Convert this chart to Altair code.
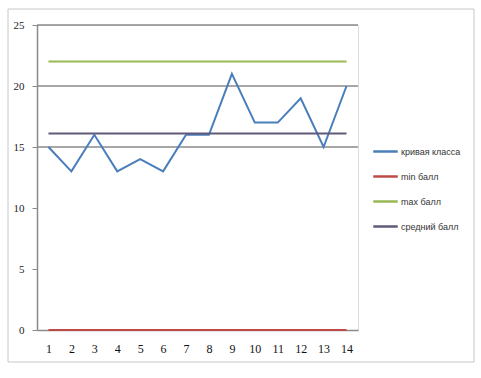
import altair as alt
import pandas as pd

lessons = list(range(1, 15))
class_curve = [15, 13, 16, 13, 14, 13, 16, 16, 21, 17, 17, 19, 15, 20]
min_score = [0] * 14
max_score = [22] * 14
avg_score = [16.1] * 14
series_names = ["кривая класса", "min балл", "max балл", "средний балл"]
series_colors = ["#4a7ebb", "#be4b48", "#98b954", "#5e5a78"]
grid_values = [15, 20, 25]

rows = []
for name, vals in zip(series_names, [class_curve, min_score, max_score, avg_score]):
    for l, v in zip(lessons, vals):
        rows.append({"lesson": l, "value": v, "series": name})
df = pd.DataFrame(rows)

W, H = 321, 305

frame = alt.Chart(pd.DataFrame({"a": [0]})).mark_rect(
    fillOpacity=0, stroke="#c8c8c8", strokeWidth=1
).encode(x=alt.value(-29), x2=alt.value(437), y=alt.value(-16), y2=alt.value(337))

grid = alt.Chart(pd.DataFrame({"g": grid_values})).mark_rule(
    color="#8a8a8a", strokeWidth=1.3
).encode(
    y=alt.Y("g:Q", scale=alt.Scale(domain=[0, 25])),
    x=alt.value(0), x2=alt.value(W),
)

lines = alt.Chart(df).mark_line(strokeWidth=2).encode(
    x=alt.X("lesson:O", scale=alt.Scale(type="point", padding=0.5),
            axis=alt.Axis(title=None, labelAngle=0, labelFont="Liberation Serif",
                          labelFontSize=12, labelColor="#111", domainColor="#8a8a8a",
                          domainWidth=1.5, ticks=False, labelPadding=13, zindex=0)),
    y=alt.Y("value:Q", scale=alt.Scale(domain=[0, 25], nice=False),
            axis=alt.Axis(title=None, values=[0, 5, 10, 15, 20, 25], grid=False,
                          labelFont="Liberation Serif", labelFontSize=11,
                          labelColor="#222", domainColor="#8a8a8a", domainWidth=1.5,
                          tickColor="#8a8a8a", tickSize=5, labelPadding=8, zindex=1)),
    color=alt.Color("series:N",
                    scale=alt.Scale(domain=series_names, range=series_colors),
                    sort=series_names,
                    legend=alt.Legend(title=None, orient="none", legendX=335, legendY=113,
                                      symbolType="stroke", symbolSize=600,
                                      symbolStrokeWidth=2.5, labelFontSize=9,
                                      labelFont="Liberation Sans", labelColor="#333",
                                      rowPadding=6, labelOffset=2)),
    order="lesson:O",
)

chart = alt.layer(frame, grid, lines).properties(
    width=W, height=H,
    autosize=alt.AutoSizeParams(type="none"),
    padding={"left": 37, "top": 25, "right": 123, "bottom": 48},
).configure_view(stroke=None).configure(background="white")

chart.save("out.html", embed_options={"renderer": "svg", "actions": False})
